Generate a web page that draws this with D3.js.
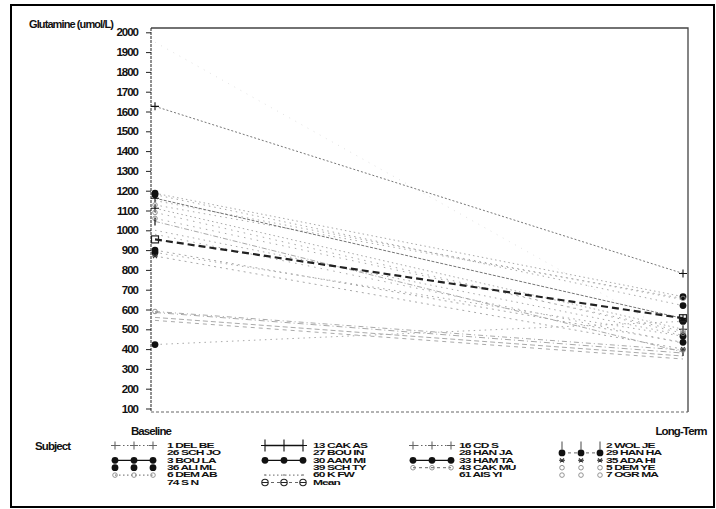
<!DOCTYPE html>
<html>
<head>
<meta charset="utf-8">
<script src="https://cdn.jsdelivr.net/npm/d3@7"></script>
<style>
  body { margin: 0; background: #fff; }
  text { font-family: "Liberation Sans", Arial, sans-serif; fill: #111; }
</style>
</head>
<body>
<div id="chart"></div>
<script>
// subjects in legend order (Mean is entry 11)
var subjects = ["1 DEL BE", "26 SCH JO", "3 BOU LA", "36 ALI ML", "6 DEM AB", "74 S N",
                "13 CAK AS", "27 BOU IN", "30 AAM MI", "39 SCH TY", "60 K FW", "Mean",
                "16 CD S", "28 HAN JA", "33 HAM TA", "43 CAK MU", "61 AIS YI",
                "2 WOL JE", "29 HAN HA", "35 ADA HI", "5 DEM YE", "7 OGR MA"];
var baseline = [1626, 1150, 1187, 888, 1128, 1950,
                1162, 1000, 1180, 585, 545, 954,
                1111, 980, 900, 1060, 560,
                1045, 423, 870, 1090, 590];
var longTerm = [782, 650, 665, 465, 656, 450,
                555, 470, 620, 380, 350, 556,
                500, 430, 434, 490, 365,
                385, 540, 400, 480, 395];
var timePoints = ["Baseline", "Long-Term"];
var yTicks = d3.range(100, 2001, 100);
var colStart = [0, 6, 12, 17];

// look of each entry: symbol and line style
var symbolOf = ["plus", "none", "dot", "dot", "circle", "none",
                "tallplus", "none", "dot", "none", "speck", "theta",
                "plus", "none", "dot", "circle", "none",
                "bar", "dot", "star", "circle", "circle"];
var legendLine = ["dot", "", "solid", "", "dot", "",
                  "solid", "", "solid", "", "dot", "dash",
                  "dot", "", "solid", "dash", "",
                  "", "dash", "", "", ""];
var lineDash = ["2,2", "1.5,4", "1.5,3", "1.5,4", "1.5,4", "1,6",
                "3,1.5", "1.5,4", "1.5,4", "6,3,1,3", "4,4", "7,4",
                "1.5,3", "1.5,5", "2,4", "1.5,5", "5,3",
                "5,2,1,2", "1.5,4", "2,4", "1.5,5", "5,3,1,3"];

var width = 716, height = 509;

var svg = d3.select("#chart").append("svg")
            .attr("width", width)
            .attr("height", height);

// outer frame
svg.append("rect")
   .attr("x", 11).attr("y", 5)
   .attr("width", 703).attr("height", 502)
   .style("fill", "none").style("stroke", "#000").style("stroke-width", 2);

var y = d3.scaleLinear().domain([100, 2000]).range([408.5, 32.3]);
var x = d3.scalePoint().domain(timePoints).range([155, 683]);

// plot box
svg.append("path")
   .attr("d", "M151,28H688V412")
   .style("fill", "none").style("stroke", "#444").style("stroke-width", 1.3);
svg.append("line")
   .attr("x1", 151).attr("x2", 688).attr("y1", 412).attr("y2", 412)
   .style("stroke", "#666").style("stroke-dasharray", "3,2");
svg.append("line")
   .attr("x1", 151).attr("x2", 151).attr("y1", 28).attr("y2", 412)
   .style("stroke", "#222").style("stroke-dasharray", "3,1");

var yAxis = svg.append("g")
               .attr("transform", "translate(151,0)")
               .call(d3.axisLeft(y).tickValues(yTicks).tickSize(5).tickPadding(8).tickFormat(d3.format("d")));
yAxis.select(".domain").remove();
yAxis.selectAll(".tick line").style("stroke", "#222");
yAxis.selectAll("text")
     .style("font-size", "11.5px")
     .style("font-weight", "bold")
     .style("letter-spacing", "-1px")
     .style("fill", "#111")
     .style("font-family", "'Liberation Sans', Arial, sans-serif");

svg.append("text")
   .attr("x", 29).attr("y", 28)
   .style("font-size", "11px").style("font-weight", "bold").style("letter-spacing", "-0.9px")
   .text("Glutamine (umol/L)");

svg.selectAll(".xlab")
   .data(timePoints)
   .enter().append("text")
   .attr("class", "xlab")
   .attr("x", function(d, i) { return x(d) + (i === 0 ? -4 : -2); })
   .attr("y", 435)
   .attr("text-anchor", "middle")
   .style("font-size", "11.5px").style("font-weight", "bold").style("letter-spacing", "-0.9px")
   .text(function(d) { return d; });

function drawSym(g, type, cx, cy, dark) {
  var c = dark ? "#111" : "#666";
  if (type === "dot") {
    g.append("circle").attr("cx", cx).attr("cy", cy).attr("r", 3.4).style("fill", "#111");
  } else if (type === "plus" || type === "tallplus") {
    var h = type === "tallplus" ? 6 : 4;
    g.append("path").attr("d", "M" + (cx - 4) + "," + cy + "H" + (cx + 4) + "M" + cx + "," + (cy - h) + "V" + (cy + h))
     .style("stroke", c).style("stroke-width", 1.1);
  } else if (type === "bar") {
    g.append("path").attr("d", "M" + cx + "," + (cy - 4) + "V" + (cy + 4))
     .style("stroke", c).style("stroke-width", 1.2);
  } else if (type === "circle") {
    g.append("circle").attr("cx", cx).attr("cy", cy).attr("r", 2.3)
     .style("fill", "none").style("stroke", "#888").style("stroke-width", 0.9);
  } else if (type === "speck") {
    g.append("circle").attr("cx", cx).attr("cy", cy).attr("r", 1)
     .style("fill", "#999");
  } else if (type === "star") {
    g.append("path").attr("d", "M" + (cx - 3) + "," + cy + "H" + (cx + 3) + "M" + (cx - 2) + "," + (cy - 2) + "L" + (cx + 2) + "," + (cy + 2) + "M" + (cx + 2) + "," + (cy - 2) + "L" + (cx - 2) + "," + (cy + 2))
     .style("stroke", "#333").style("stroke-width", 1.1);
  } else if (type === "theta") {
    g.append("circle").attr("cx", cx).attr("cy", cy).attr("r", 3.2)
     .style("fill", "none").style("stroke", "#222").style("stroke-width", 1.1);
    g.append("path").attr("d", "M" + (cx - 3) + "," + cy + "H" + (cx + 3))
     .style("stroke", "#222").style("stroke-width", 1);
  } else if (type === "square") {
    g.append("rect").attr("x", cx - 3.5).attr("y", cy - 3.5).attr("width", 7).attr("height", 7)
     .style("fill", "none").style("stroke", "#222").style("stroke-width", 1.2);
  }
}

// series
var line = d3.line()
             .x(function(d) { return x(d.t); })
             .y(function(d) { return y(d.v); });

var series = subjects.map(function(s, i) {
  return { name: s, i: i, pts: [{ t: timePoints[0], v: baseline[i] }, { t: timePoints[1], v: longTerm[i] }] };
});
var subjSeries = series.filter(function(d) { return d.name !== "Mean"; });
var meanSeries = series.filter(function(d) { return d.name === "Mean"; });

var plot = svg.append("g");
plot.selectAll(".subj")
    .data(subjSeries)
    .enter().append("path")
    .attr("class", "subj")
    .attr("d", function(d) { return line(d.pts); })
    .style("fill", "none")
    .style("stroke", function(d) { return d.name === "74 S N" ? "#e2e2e2" : (d.name === "13 CAK AS" || d.name === "1 DEL BE" ? "#777" : "#aaa"); })
    .style("stroke-width", 1)
    .style("stroke-dasharray", function(d) { return lineDash[d.i]; });

plot.selectAll(".mean")
    .data(meanSeries)
    .enter().append("path")
    .attr("class", "mean")
    .attr("d", function(d) { return line(d.pts); })
    .style("fill", "none").style("stroke", "#222")
    .style("stroke-width", 2.2)
    .style("stroke-dasharray", "7,4");

subjSeries.forEach(function(d) {
  var s = symbolOf[d.i];
  if (s === "none" || s === "speck") return;
  d.pts.forEach(function(p) {
    drawSym(plot, s === "tallplus" ? "plus" : s, x(p.t), y(p.v), true);
  });
});
meanSeries.forEach(function(d) {
  d.pts.forEach(function(p) { drawSym(plot, "square", x(p.t), y(p.v), true); });
});

// legend
svg.append("text")
   .attr("x", 35).attr("y", 450)
   .style("font-size", "11.5px").style("font-weight", "bold").style("letter-spacing", "-0.9px")
   .text("Subject");

var colSym = [115, 265, 413, 562];
var colLab = [167, 313, 459, 606];
var rowY0 = 445.5, rowStep = 7.4;

subjects.forEach(function(name, i) {
  var col = 3;
  for (var c = colStart.length - 1; c >= 0; c--) { if (i >= colStart[c]) { col = c; break; } }
  var row = i - colStart[col];
  var cy = rowY0 + row * rowStep;
  var g = svg.append("g");
  var ls = legendLine[i];
  if (ls) {
    g.append("line")
     .attr("x1", colSym[col]).attr("x2", colSym[col] + 38)
     .attr("y1", cy).attr("y2", cy)
     .style("stroke", ls === "solid" ? "#111" : "#666")
     .style("stroke-width", ls === "solid" ? 1.3 : 1)
     .style("stroke-dasharray", ls === "dot" ? "1.5,2.5" : (ls === "dash" ? "3,3" : null));
  }
  if (symbolOf[i] !== "none") {
    for (var k = 0; k < 3; k++) {
      drawSym(g, symbolOf[i], colSym[col] + k * 19, cy, symbolOf[i] === "tallplus");
    }
  }
  // squeezed vertically so the stacked rows stay readable
  g.append("text")
   .attr("transform", "translate(" + colLab[col] + "," + (cy + 2.3) + ") scale(1,0.53)")
   .style("font-size", "12px").style("font-weight", "bold").style("letter-spacing", "-0.9px")
   .text(name);
});
</script>
</body>
</html>
